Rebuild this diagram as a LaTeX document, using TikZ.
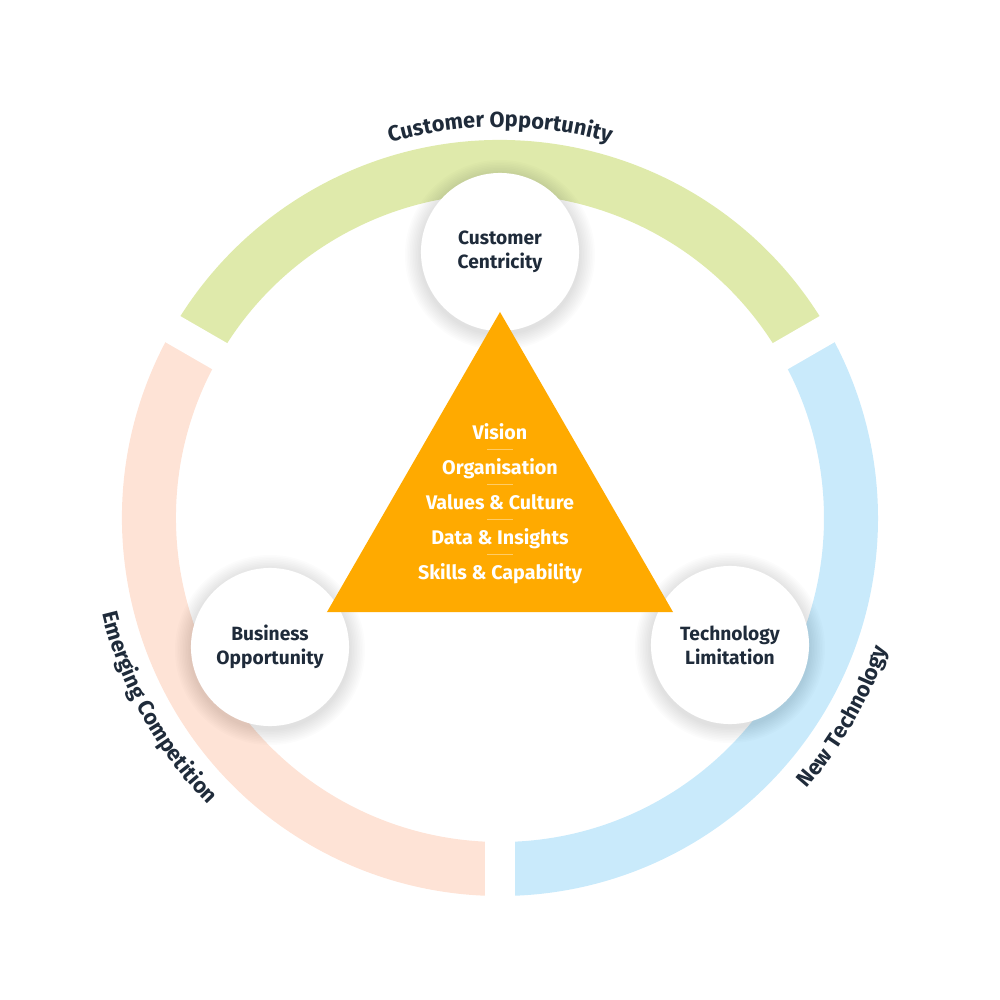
\documentclass[tikz,border=0pt]{standalone}
\usepackage{fontspec}
\setmainfont{Fira Sans}
\usetikzlibrary{decorations.text}
\definecolor{ringGreen}{HTML}{DFEAAB}
\definecolor{ringPeach}{HTML}{FEE3D6}
\definecolor{ringBlue}{HTML}{C9EAFB}
\definecolor{pillarOrange}{HTML}{FFAA00}
\definecolor{labelNavy}{HTML}{1F2B3A}
\tikzset{
  ring diagram/.style={
    x=0.01cm, y=0.01cm,
    every node/.style={inner sep=0pt, outer sep=0pt}
  },
  ring arc/.style={line width=0.54cm},
  ring gap/.style={draw=white, line width=0.30cm},
  hub circle/.style={circle, fill=white, minimum size=1.58cm, align=center,
    text=labelNavy, font=\fontsize{5.45}{6.83}\selectfont\bfseries},
  pillar text/.style={text=white, anchor=base,
    font=\fontsize{5.6}{6.7}\selectfont\bfseries},
  pillar rule/.style={draw=white, draw opacity=0.4, line width=0.5pt},
  ring label/.style={decorate, decoration={text along path,
    text color=labelNavy, text align=center,
    text={|\fontsize{6.2}{7}\selectfont\bfseries|#1}}}
}
\newcommand{\HubCircle}[3]{%
  \foreach \s in {1,...,10}
    \fill[black, opacity=0.011] ([yshift=-0.03cm]#2) circle ({0.79cm+\s*0.016cm});
  \node[hub circle] (#1) at (#2) {#3};
}

\begin{document}
\begin{tikzpicture}[ring diagram]
    \useasboundingbox (-500,-482) rectangle (500,518);
    % outer ring
    \draw[ring arc, ringGreen] (30:351) arc[start angle=30, end angle=150, radius=351];
    \draw[ring arc, ringPeach] (150:351) arc[start angle=150, end angle=270, radius=351];
    \draw[ring arc, ringBlue] (270:351) arc[start angle=270, end angle=390, radius=351];
    \foreach \a in {30,150,270}
      \draw[ring gap] (\a:300) -- (\a:400);
    % ring labels
    \path[ring label={Customer Opportunity}]
      (150:391) arc[start angle=150, end angle=30, radius=391];
    \path[ring label={Emerging Competition}]
      (160:409) arc[start angle=160, end angle=258, radius=409];
    \path[ring label={New Technology}]
      (280:409) arc[start angle=280, end angle=380, radius=409];
    % hubs
    \HubCircle{cust}{0,266}{Customer\\Centricity}
    \HubCircle{biz}{-230,-129}{Business\\Opportunity}
    \HubCircle{tech}{230,-127}{Technology\\Limitation}
    % pillar triangle
    \coordinate (apex) at (0,206);
    \coordinate (baseL) at (-173,-94);
    \coordinate (baseR) at (173,-94);
    \fill[pillarOrange] (apex) -- (baseR) -- (baseL) -- cycle;
    \foreach \txt [count=\i] in {Vision, Organisation, Values \& Culture,
        Data \& Insights, Skills \& Capability}
      \node[pillar text] (pillar\i) at (0,{114-35*\i}) {\txt};
    \foreach \i in {1,...,4}
      \draw[pillar rule] (-13,{103.5-35*\i}) -- (13,{103.5-35*\i});
\end{tikzpicture}
\end{document}
